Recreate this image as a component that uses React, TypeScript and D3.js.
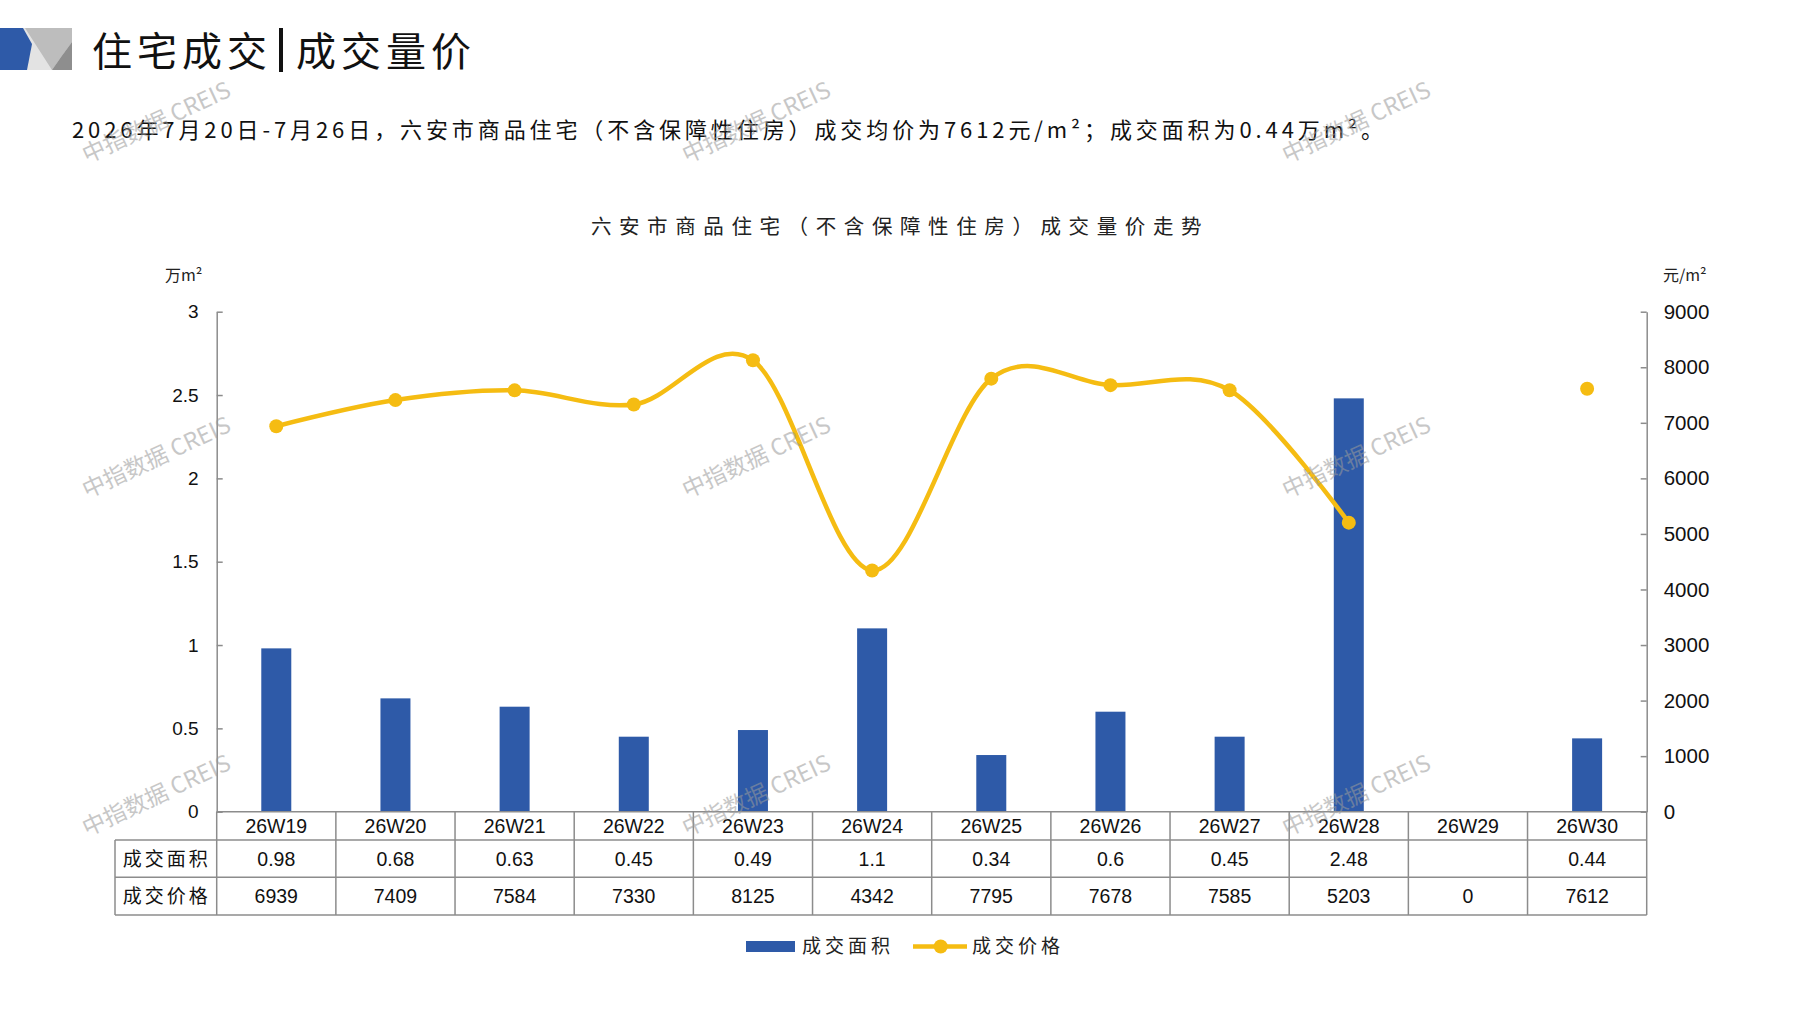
import * as d3 from "d3";
import { useEffect, useRef } from "react";

const weeks = ["26W19", "26W20", "26W21", "26W22", "26W23", "26W24", "26W25", "26W26", "26W27", "26W28", "26W29", "26W30"];
const areaValues: (number | null)[] = [0.98, 0.68, 0.63, 0.45, 0.49, 1.1, 0.34, 0.6, 0.45, 2.48, null, 0.44];
const priceValues = [6939, 7409, 7584, 7330, 8125, 4342, 7795, 7678, 7585, 5203, 0, 7612];
const leftTicks = [0, 0.5, 1, 1.5, 2, 2.5, 3];
const rightTicks = [0, 1000, 2000, 3000, 4000, 5000, 6000, 7000, 8000, 9000];
const rowHeaders = ["成交面积", "成交价格"];

const W = 1797;
const H = 1010;
const CJK = "'Noto Sans CJK SC', 'Noto Sans', sans-serif";
const NUM = "'Liberation Sans', Arial, sans-serif";
const BLUE = "#2E5AA8";
const YELLOW = "#F5BC12";
const GRID = "#8c8c8c";

function App() {
  const ref = useRef<SVGSVGElement>(null);

  useEffect(() => {
    const svg = d3.select(ref.current);
    svg.selectAll("*").remove();

    const left = 216.7;
    const right = 1646.7;
    const top = 311.7;
    const bottom = 811.7;
    const row1 = 840;
    const row2 = 877.3;
    const row3 = 915;
    const headLeft = 115;

    const x = d3.scaleBand().domain(weeks).range([left, right]).padding(0);
    const yL = d3.scaleLinear().domain([0, 3]).range([bottom, top]);
    const yR = d3.scaleLinear().domain([0, 9000]).range([bottom, top]);
    const cx = (w: string) => (x(w) as number) + x.bandwidth() / 2;

    // header logo
    const logo = svg.append("g");
    logo.append("rect").attr("x", 22).attr("y", 28).attr("width", 50).attr("height", 42).attr("fill", "#e3e3e3");
    logo.append("polygon").attr("points", "25,28 72,28 72,42 61,57 52,70").attr("fill", "#bdbdbd");
    logo.append("polygon").attr("points", "72,42 72,70 52,70 61,57").attr("fill", "#8e8e8e");
    logo.append("polygon").attr("points", "0,28 23,28 32,44 27,70 0,70").attr("fill", BLUE);

    // title
    svg.append("text").attr("x", 92).attr("y", 66).attr("font-family", CJK).attr("font-size", 40)
      .attr("letter-spacing", 5).attr("fill", "#111").text("住宅成交");
    svg.append("rect").attr("x", 279).attr("y", 28).attr("width", 4).attr("height", 44).attr("fill", "#111");
    svg.append("text").attr("x", 296).attr("y", 66).attr("font-family", CJK).attr("font-size", 40)
      .attr("letter-spacing", 5).attr("fill", "#111").text("成交量价");

    // subtitle
    svg.append("text").attr("x", 72).attr("y", 138).attr("font-family", CJK).attr("font-size", 22)
      .attr("letter-spacing", 3.9).attr("fill", "#111")
      .text("2026年7月20日-7月26日，六安市商品住宅（不含保障性住房）成交均价为7612元/m²；成交面积为0.44万m²。");

    // chart title
    svg.append("text").attr("x", 900).attr("y", 234).attr("text-anchor", "middle").attr("font-family", CJK)
      .attr("font-size", 20.5).attr("letter-spacing", 7.6).attr("fill", "#222")
      .text("六安市商品住宅（不含保障性住房）成交量价走势");

    // unit labels
    svg.append("text").attr("x", 165).attr("y", 281).attr("font-family", CJK).attr("font-size", 16)
      .attr("fill", "#222").text("万m²");
    svg.append("text").attr("x", 1663).attr("y", 281).attr("font-family", CJK).attr("font-size", 16)
      .attr("fill", "#222").text("元/m²");

    // bars
    svg.append("g").selectAll("rect")
      .data(weeks.map((w, i) => ({ w, v: areaValues[i] })).filter((d) => d.v != null))
      .enter().append("rect")
      .attr("x", (d) => cx(d.w) - 15)
      .attr("y", (d) => yL(d.v as number))
      .attr("width", 30)
      .attr("height", (d) => bottom - yL(d.v as number))
      .attr("fill", BLUE);

    // price line
    const pts = weeks.map((w, i) => ({ w, v: priceValues[i] }));
    const line = d3.line<{ w: string; v: number }>()
      .defined((d) => d.v > 0)
      .x((d) => cx(d.w))
      .y((d) => yR(d.v))
      .curve(d3.curveCardinal.tension(0));
    svg.append("path").attr("d", line(pts)).attr("fill", "none").attr("stroke", YELLOW)
      .attr("stroke-width", 4.5).attr("stroke-linejoin", "round");
    svg.append("g").selectAll("circle")
      .data(pts.filter((d) => d.v > 0))
      .enter().append("circle")
      .attr("cx", (d) => cx(d.w))
      .attr("cy", (d) => yR(d.v))
      .attr("r", 7)
      .attr("fill", YELLOW);

    // axes
    const gl = svg.append("g").attr("transform", `translate(${left},0)`)
      .call(d3.axisLeft(yL).tickValues(leftTicks).tickSizeInner(-6).tickSizeOuter(0).tickPadding(18).tickFormat(d3.format("~g")));
    const gr = svg.append("g").attr("transform", `translate(${right},0)`)
      .call(d3.axisRight(yR).tickValues(rightTicks).tickSizeInner(-6).tickSizeOuter(0).tickPadding(17).tickFormat(d3.format("d")));
    [gl, gr].forEach((g) => {
      g.select(".domain").attr("stroke", GRID).attr("stroke-width", 1.5);
      g.selectAll(".tick line").attr("stroke", GRID).attr("stroke-width", 1.5);
      g.selectAll(".tick text").attr("fill", "#111").attr("font-family", NUM);
    });
    gl.selectAll(".tick text").attr("font-size", 19);
    gr.selectAll(".tick text").attr("font-size", 20.5);

    // data table
    const table = svg.append("g").attr("stroke", GRID).attr("stroke-width", 1.5);
    const bounds = weeks.map((w) => x(w) as number).concat([right]);
    table.selectAll("line.v").data(bounds).enter().append("line")
      .attr("x1", (d) => d).attr("x2", (d) => d).attr("y1", bottom).attr("y2", row3);
    table.append("line").attr("x1", headLeft).attr("x2", headLeft).attr("y1", row1).attr("y2", row3);
    table.append("line").attr("x1", left).attr("x2", right).attr("y1", bottom).attr("y2", bottom);
    [row1, row2, row3].forEach((y) => {
      table.append("line").attr("x1", headLeft).attr("x2", right).attr("y1", y).attr("y2", y);
    });

    const tt = svg.append("g").attr("text-anchor", "middle").attr("fill", "#111").attr("font-size", 19.5);
    tt.selectAll("text.cat").data(weeks).enter().append("text")
      .attr("x", (d) => cx(d)).attr("y", (bottom + row1) / 2 + 7).attr("font-family", NUM).text((d) => d);
    tt.selectAll("text.area").data(weeks.map((w, i) => ({ w, v: areaValues[i] }))).enter().append("text")
      .attr("x", (d) => cx(d.w)).attr("y", (row1 + row2) / 2 + 7).attr("font-family", NUM)
      .text((d) => (d.v == null ? "" : String(d.v)));
    tt.selectAll("text.price").data(pts).enter().append("text")
      .attr("x", (d) => cx(d.w)).attr("y", (row2 + row3) / 2 + 7).attr("font-family", NUM)
      .text((d) => String(d.v));
    tt.selectAll("text.head").data(rowHeaders).enter().append("text")
      .attr("x", (headLeft + left) / 2 + 1).attr("y", (d, i) => (i === 0 ? (row1 + row2) / 2 : (row2 + row3) / 2) + 7)
      .attr("font-family", CJK).attr("font-size", 19).attr("letter-spacing", 3).text((d) => d);

    // legend
    const lg = svg.append("g").attr("font-family", CJK).attr("font-size", 19).attr("fill", "#222");
    lg.append("rect").attr("x", 746).attr("y", 941).attr("width", 49).attr("height", 11).attr("fill", BLUE);
    lg.append("text").attr("x", 802).attr("y", 953).attr("letter-spacing", 4).text(rowHeaders[0]);
    lg.append("line").attr("x1", 913).attr("x2", 967).attr("y1", 946.5).attr("y2", 946.5)
      .attr("stroke", YELLOW).attr("stroke-width", 4.5);
    lg.append("circle").attr("cx", 940.7).attr("cy", 946.5).attr("r", 7).attr("fill", YELLOW);
    lg.append("text").attr("x", 972).attr("y", 953).attr("letter-spacing", 4).text(rowHeaders[1]);

    // watermarks
    const wm = svg.append("g").attr("pointer-events", "none");
    [157, 757, 1357].forEach((wx) => {
      [124, 459, 797].forEach((wy) => {
        wm.append("text").attr("transform", `translate(${wx},${wy}) rotate(-25)`)
          .attr("text-anchor", "middle").attr("dominant-baseline", "middle")
          .attr("font-family", CJK).attr("font-size", 23).attr("fill", "#9a9a9a").attr("opacity", 0.55)
          .text("中指数据 CREIS");
      });
    });
  }, []);

  return (
    <svg ref={ref} width={W} height={H} style={{ position: "absolute", left: 0, top: 0, background: "#fff" }} />
  );
}

export default App;
